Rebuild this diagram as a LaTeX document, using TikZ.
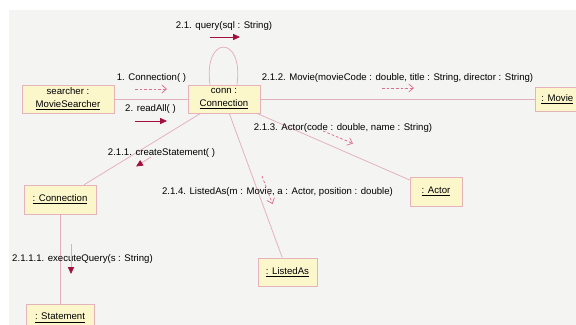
\documentclass[tikz,border=0pt]{standalone}
\usepackage{fontspec}
\setmainfont{Liberation Sans}
\usetikzlibrary{arrows.meta}

\definecolor{canvas}{HTML}{F4F4F3}
\definecolor{objfill}{HTML}{FBF7CB}
\definecolor{objedge}{HTML}{E6B2BC}
\definecolor{linkcol}{HTML}{E3AEBC}
\definecolor{callcol}{HTML}{A3103F}
\definecolor{newcol}{HTML}{DD6E8E}

\tikzset{
  obj/.style={draw=objedge, fill=objfill, line width=0.6pt, align=center,
    inner sep=0pt, font=\fontsize{7.2}{9.5}\selectfont},
  link/.style={draw=linkcol, line width=0.55pt},
  msg/.style={font=\fontsize{7.2}{8.6}\selectfont, inner sep=0pt},
  call/.style={draw=callcol, line width=0.6pt,
    -{Triangle[length=5.2pt,width=4.6pt,color=callcol]}},
  faintcall/.style={call, draw=linkcol},
  create/.style={draw=newcol, line width=0.55pt, dash pattern=on 2pt off 1.5pt,
    -{Straight Barb[length=3.5pt,width=6pt]}}
}

\begin{document}
\begin{tikzpicture}[x=0.75pt, y=-0.75pt]
  % sheet and canvas
  \useasboundingbox (0,0) rectangle (576,325);
  \fill[white] (0,0) rectangle (576,325);
  \fill[canvas] (9,10) rectangle (576,325);
  \clip (0,0) rectangle (576,325);

  % links first, so the objects sit on top of them
  \path (68,99) coordinate (searcherC) (224,99) coordinate (connC);

  % objects
  \node[obj, minimum width=69pt, minimum height=21pt] (searcher) at (68,99)
    {searcher :\\\underline{MovieSearcher}};
  \node[obj, minimum width=54pt, minimum height=21pt] (conn) at (224,99)
    {conn :\\\underline{Connection}};
  \node[obj, anchor=west, inner xsep=4.5pt, minimum height=18pt] (movie) at (535,99)
    {\underline{: Movie}};
  \node[obj, minimum width=54pt, minimum height=21.75pt] (stmtconn) at (60,199.5)
    {\underline{: Connection}};
  \node[obj, minimum width=51pt, minimum height=21pt] (statement) at (60,318)
    {\underline{: Statement}};
  \node[obj, minimum width=44.25pt, minimum height=21pt] (listed) at (287.5,272)
    {\underline{: ListedAs}};
  \node[obj, minimum width=39pt, minimum height=21.75pt] (actor) at (436,191.5)
    {\underline{: Actor}};

  % links
  \draw[link] (searcher) -- (conn);
  \draw[link] (conn) -- (movie);
  \draw[link] (conn) -- (stmtconn);
  \draw[link] (conn) -- (listed);
  \draw[link] (conn) -- (actor);
  \draw[link] (stmtconn) -- (statement);
  \draw[link] ([xshift=-10.5pt]conn.north) .. controls +(-7,-50) and +(7,-50) .. ([xshift=9.75pt]conn.north);

  % message labels
  \node[msg] (mquery) at (224,26) {2.1. query(sql : String)};
  \node[msg] (mconn) at (151.5,78) {1. Connection( )};
  \node[msg] (mread) at (150.5,109) {2. readAll( )};
  \node[msg] (mcreate) at (161.5,153) {2.1.1. createStatement( )};
  \node[msg] (mmovie) at (397.5,78) {2.1.2. Movie(movieCode : double, title : String, director : String)};
  \node[msg] (mactor) at (343,128) {2.1.3. Actor(code : double, name : String)};
  \node[msg] (mlisted) at (277.5,192) {2.1.4. ListedAs(m : Movie, a : Actor, position : double)};
  \node[msg] (mexec) at (82.5,259) {2.1.1.1. executeQuery(s : String)};

  % message arrows
  \coordinate (q1) at (210,37);  \coordinate (q2) at (240,37);
  \coordinate (c1) at (135,89);  \coordinate (c2) at (167,89);
  \coordinate (r1) at (135,121); \coordinate (r2) at (167,121);
  \coordinate (s1) at (151,157); \coordinate (s2) at (136,166.5);
  \coordinate (m1) at (382,88);  \coordinate (m2) at (414,88);
  \coordinate (a1) at (323,131); \coordinate (a2) at (353,143.5);
  \coordinate (l1) at (262,176); \coordinate (l2) at (272.5,204);
  \coordinate (e1) at (71,244);  \coordinate (e2) at (71,274);

  \draw[call] (q1) -- (q2);
  \draw[create] (c1) -- (c2);
  \draw[call] (r1) -- (r2);
  \draw[faintcall] (s1) -- (s2);
  \draw[create] (m1) -- (m2);
  \draw[create] (a1) -- (a2);
  \draw[create] (l1) -- (l2);
  \draw[faintcall] (e1) -- (e2);
\end{tikzpicture}
\end{document}
